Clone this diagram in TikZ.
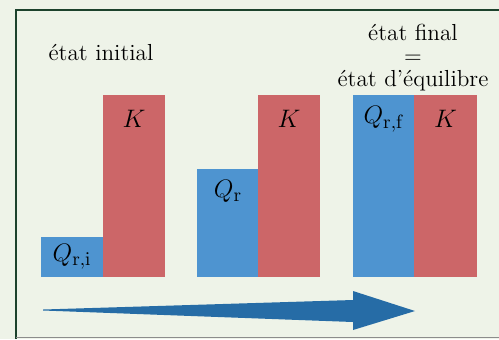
\documentclass[tikz,border=0pt]{standalone}
\usepackage{tikz}
\usetikzlibrary{positioning}

\definecolor{paper}{RGB}{238,243,232}
\definecolor{qblue}{RGB}{78,148,208}
\definecolor{kred}{RGB}{204,102,104}
\definecolor{arrowblue}{RGB}{38,108,166}
\definecolor{framegreen}{RGB}{28,66,44}

\begin{document}
\begin{tikzpicture}[
  x=0.02cm, y=-0.02cm,
  bar/.style={inner sep=0pt,outer sep=0pt,minimum width=1.24cm,anchor=south west},
  qbar/.style={bar,fill=qblue},
  kbar/.style={bar,fill=kred},
  lab/.style={font=\fontsize{15}{17}\selectfont,inner sep=1pt},
  title/.style={font=\fontsize{13.2}{13}\selectfont,align=center,inner sep=0pt}
]
\fill[paper] (0,0) rectangle (499,339);
\useasboundingbox (0,0) rectangle (499,339);
% frame
\draw[framegreen,line width=1.2pt] (16,339) -- (16,10) -- (499,10);
\draw[black!45,line width=0.6pt] (16,337.5) -- (499,337.5);
% Titles
\node[title] (init) at (101,53) {état initial};
\node[title,anchor=north] (final) at (413,24) {état final\\=\\état d'équilibre};
% Group 1: initial state
\node[qbar,minimum height=0.8cm] (qi) at (41,277) {};
\node[kbar,minimum height=3.64cm] (k1) at (103,277) {};
% Group 2: intermediate state
\node[qbar,minimum height=2.16cm] (q) at (197,277) {};
\node[kbar,minimum height=3.64cm] (k2) at (258,277) {};
% Group 3: final state
\node[qbar,minimum height=3.64cm] (qf) at (353,277) {};
\node[kbar,minimum height=3.64cm,minimum width=1.26cm] (k3) at (414,277) {};
% Labels
\node[lab] (lqi) at (qi.center) {$Q_{\mathrm{r,i}}$};
\node[lab,below=0.265cm of k1.north] (lk1) {$K$};
\node[lab,below=0.185cm of q.north] (lq) {$Q_{\mathrm{r}}$};
\node[lab,below=0.265cm of k2.north] (lk2) {$K$};
\node[lab,below=0.185cm of qf.north] (lqf) {$Q_{\mathrm{r,f}}$};
\node[lab,below=0.265cm of k3.north] (lk3) {$K$};
% Arrow (tapered)
\fill[arrowblue] (43,309.5) -- (353,300) -- (353,291) -- (415,311)
  -- (353,330) -- (353,322) -- (43,310.5) -- cycle;
\end{tikzpicture}
\end{document}
